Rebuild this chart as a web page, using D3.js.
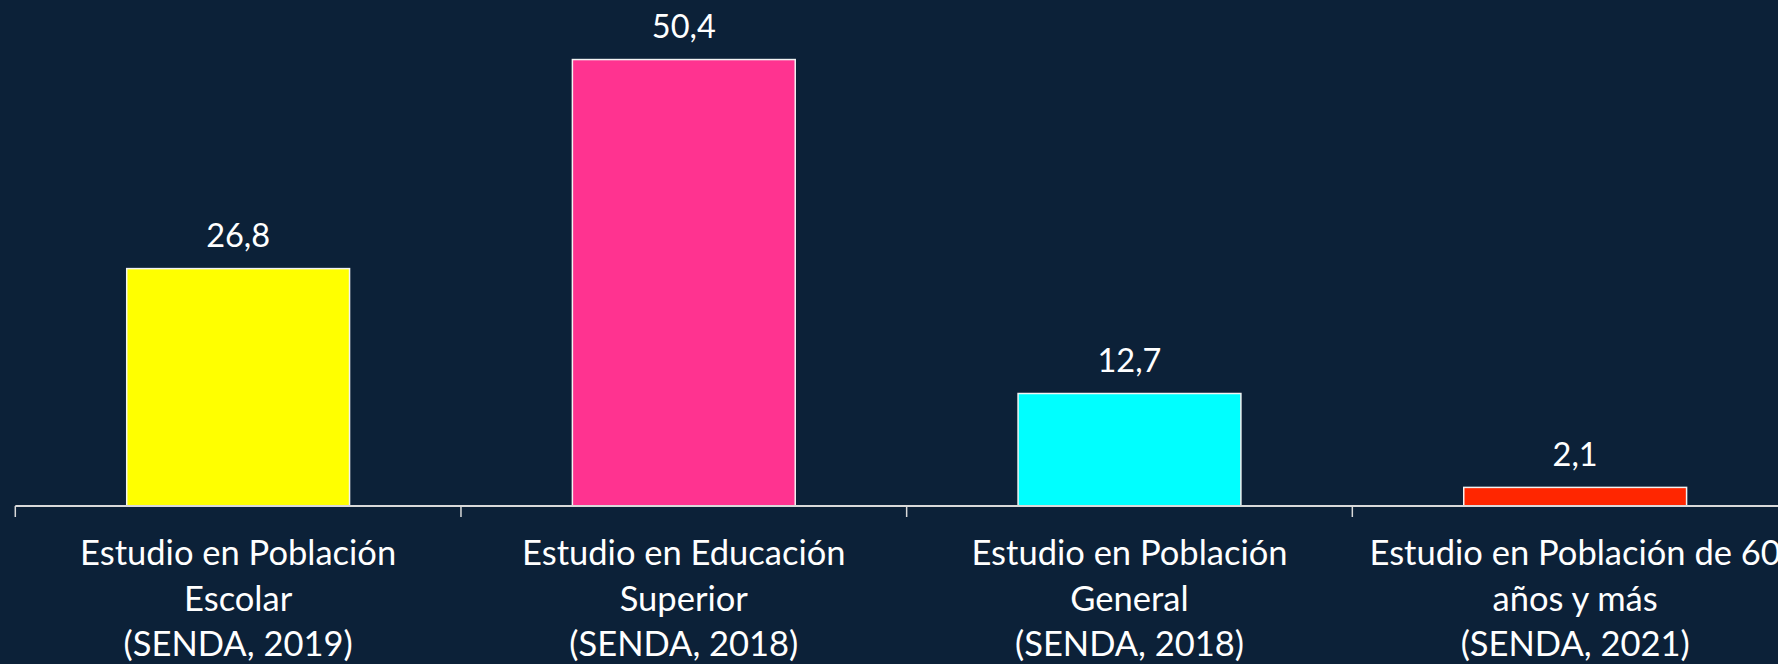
<!DOCTYPE html>
<html>
<head>
<meta charset="utf-8">
<script src="https://cdn.jsdelivr.net/npm/d3@7"></script>
<style>
  html, body { margin: 0; padding: 0; background: #0c2138; overflow: hidden; }
  svg { display: block; }
  text { font-family: Lato, "Open Sans", sans-serif; fill: #ffffff; }
</style>
</head>
<body>
<svg id="chart" width="1778" height="664"></svg>
<script>
const categories = [
  "Estudio en Población Escolar (SENDA, 2019)",
  "Estudio en Educación Superior (SENDA, 2018)",
  "Estudio en Población General (SENDA, 2018)",
  "Estudio en Población de 60 años y más (SENDA, 2021)"
];
const labelLines = [
  ["Estudio en Población", "Escolar", "(SENDA, 2019)"],
  ["Estudio en Educación", "Superior", "(SENDA, 2018)"],
  ["Estudio en Población", "General", "(SENDA, 2018)"],
  ["Estudio en Población de 60", "años y más", "(SENDA, 2021)"]
];
const values = [26.8, 50.4, 12.7, 2.1];
const valueLabels = ["26,8", "50,4", "12,7", "2,1"];
const colors = ["#ffff00", "#ff3390", "#00ffff", "#ff2600"];

const svg = d3.select("#chart");
const baseY = 506;

const x = d3.scaleBand()
  .domain(categories)
  .range([15.3, 1798])
  .paddingInner(0.5)
  .paddingOuter(0.25);

const y = d3.scaleLinear()
  .domain([0, 57])
  .range([baseY, baseY - 57 * 8.858]);

// bars
svg.selectAll("rect.bar")
  .data(values)
  .join("rect")
  .attr("class", "bar")
  .attr("x", (d, i) => x(categories[i]))
  .attr("width", x.bandwidth())
  .attr("y", d => y(d))
  .attr("height", d => y(0) - y(d))
  .attr("fill", (d, i) => colors[i])
  .attr("stroke", "#f2f2f2")
  .attr("stroke-width", 1.5);

// value labels
svg.selectAll("text.val")
  .data(values)
  .join("text")
  .attr("class", "val")
  .attr("x", (d, i) => x(categories[i]) + x.bandwidth() / 2)
  .attr("y", d => y(d) - 21.5)
  .attr("text-anchor", "middle")
  .style("font-size", "32.5px")
  .text((d, i) => valueLabels[i]);

// axis
const axisG = svg.append("g").attr("transform", `translate(0,${baseY})`);
axisG.append("line")
  .attr("x1", 15.3).attr("x2", 1798)
  .attr("y1", 0).attr("y2", 0)
  .attr("stroke", "#d9d9d9").attr("stroke-width", 2);
axisG.selectAll("line.tick")
  .data(categories)
  .join("line")
  .attr("class", "tick")
  .attr("x1", d => x(d) - x.bandwidth() / 2)
  .attr("x2", d => x(d) - x.bandwidth() / 2)
  .attr("y1", 0).attr("y2", 11)
  .attr("stroke", "#d9d9d9").attr("stroke-width", 1.5);

// category labels
const lab = svg.selectAll("text.cat")
  .data(categories)
  .join("text")
  .attr("class", "cat")
  .attr("text-anchor", "middle")
  .style("font-size", "34.5px")
  .attr("x", d => x(d) + x.bandwidth() / 2)
  .attr("y", 565);
lab.each(function(d, i) {
  const t = d3.select(this);
  labelLines[i].forEach((ln, k) => {
    t.append("tspan")
      .attr("x", x(d) + x.bandwidth() / 2)
      .attr("y", 565 + k * 45.5)
      .text(ln);
  });
});
</script>
</body>
</html>
